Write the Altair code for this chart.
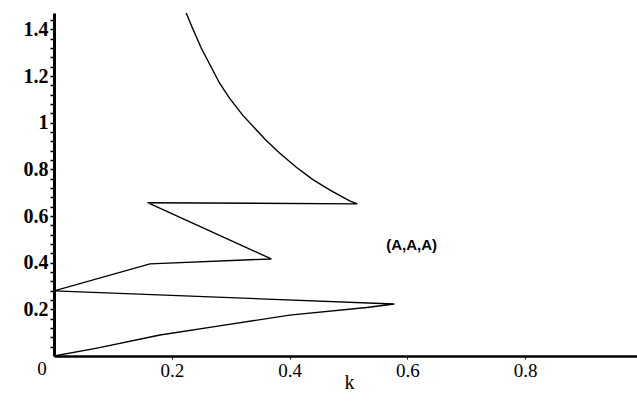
import altair as alt
import pandas as pd

# path of the curve (k, value), drawn in order
k_vals = [0.222, 0.236, 0.250, 0.281, 0.298, 0.321, 0.360, 0.383,
          0.411, 0.439, 0.468, 0.502, 0.515,
          0.159, 0.369, 0.163, 0.0, 0.578,
          0.531, 0.400, 0.281, 0.180, 0.073, 0.0]
y_vals = [1.485, 1.400, 1.320, 1.170, 1.105, 1.030, 0.925, 0.870,
          0.810, 0.757, 0.712, 0.665, 0.652,
          0.657, 0.416, 0.395, 0.279, 0.223,
          0.208, 0.175, 0.129, 0.090, 0.034, 0.0]

x_ticks = [0.2, 0.4, 0.6, 0.8]
y_ticks = [0.04, 0.08, 0.12, 0.16, 0.2, 0.24, 0.28, 0.32, 0.36, 0.4,
           0.44, 0.48, 0.52, 0.56, 0.6, 0.64, 0.68, 0.72, 0.76, 0.8,
           0.84, 0.88, 0.92, 0.96, 1.0, 1.04, 1.08, 1.12, 1.16, 1.2,
           1.24, 1.28, 1.32, 1.36, 1.4, 1.44]

annot_text = ["(A,A,A)"]
annot_k = [0.564]
annot_y = [0.476]

df = pd.DataFrame({"k": k_vals, "v": y_vals, "i": list(range(len(k_vals)))})

xs = alt.Scale(domain=[0, 0.99], nice=False, zero=False)
ys = alt.Scale(domain=[0, 1.47], nice=False, zero=False)

x_axis = alt.Axis(
    values=x_ticks, title="k", grid=False, domainColor="black", domainWidth=2.5,
    tickColor="black", tickSize=3, labelFont="Liberation Serif", labelFontSize=19,
    labelColor="black", labelPadding=2, labelOverlap=False, titleFont="Liberation Serif",
    titleFontSize=20, titleFontWeight="normal", titleColor="black",
    titleX=295, titleY=32, titleBaseline="alphabetic",
    labelExpr="format(datum.value, '~g')")
y_axis = alt.Axis(
    values=y_ticks, title=None, grid=False, domainColor="black", domainWidth=3,
    tickColor="black", tickSize=4, tickWidth=1.5, labelFont="Liberation Serif",
    labelFontSize=20, labelFontWeight="bold", labelColor="black", labelPadding=2,
    labelOverlap=False, labelBound=False,
    labelExpr="abs(datum.value*5 - round(datum.value*5)) < 0.001 ? format(datum.value, '~g') : ''")

line = alt.Chart(df).mark_line(color="black", strokeWidth=1.4, clip=True).encode(
    x=alt.X("k:Q", scale=xs, axis=x_axis),
    y=alt.Y("v:Q", scale=ys, axis=y_axis),
    order="i:Q",
)

annot = alt.Chart(pd.DataFrame({"t": annot_text, "k": annot_k, "v": annot_y})).mark_text(
    align="left", baseline="middle", font="Liberation Sans", fontSize=15, fontWeight="bold",
    color="black"
).encode(x=alt.X("k:Q", scale=xs, axis=x_axis), y=alt.Y("v:Q", scale=ys, axis=y_axis), text="t:N")

origin = alt.Chart(pd.DataFrame({"t": ["0"], "k": [0.0], "v": [0.0]})).mark_text(
    align="center", baseline="top", font="Liberation Serif", fontSize=19, color="black",
    dx=-12, dy=4
).encode(x=alt.X("k:Q", scale=xs, axis=x_axis), y=alt.Y("v:Q", scale=ys, axis=y_axis), text="t:N")

chart = alt.layer(line, annot, origin).properties(
    width=583, height=343,
    padding={"left": 54, "top": 13, "right": 0, "bottom": 53},
    autosize="none",
    background="white",
).configure_view(stroke=None)

chart.save("out.html", embed_options={"renderer": "svg", "actions": False})
